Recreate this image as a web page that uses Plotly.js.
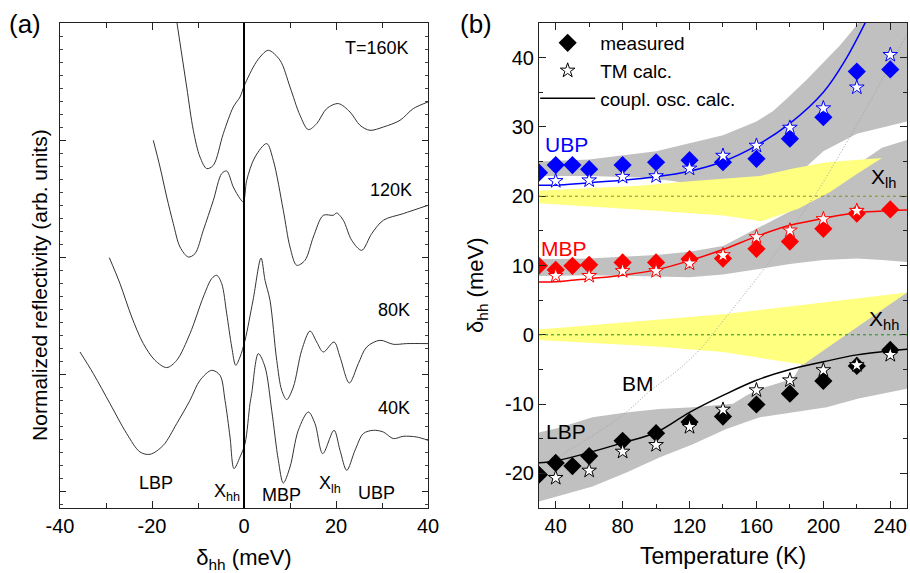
<!DOCTYPE html>
<html><head><meta charset="utf-8">
<script src="https://cdn.plot.ly/plotly-3.0.1.min.js"></script>
<style>html,body{margin:0;padding:0;background:#fff}#chart{width:910px;height:573px}</style>
</head><body><div id="chart"></div>
<script>
// ---------- Panel (a): reflectivity spectra (offset, arb. units) ----------
const delta160 = [-14.7,-12.46,-11.02,-9.57,-8.11,-6.67,-4.50,-2.33,-0.87,0,0.59,2.02,3.48,5.28,7.83,10.0,12.17,13.98,15.8,17.98,20.5,23.04,25.22,27.39,30.28,33.91,36.8,40.0];
const refl160  = [48.9,42.1,37.77,35.1,33.94,34.27,37.44,40.1,41.1,42.17,42.77,44.1,45.1,45.77,44.77,42.1,39.27,37.84,38.44,39.94,40.44,39.6,38.27,37.77,38.1,38.77,39.94,40.6];
const delta120 = [-19.72,-18.26,-16.8,-15.37,-13.91,-12.11,-10.65,-8.85,-6.67,-4.85,-3.76,-2.33,-0.87,-0.15,0.59,2.39,4.93,6.37,8.54,10.0,11.46,13.26,15.07,17.24,19.41,20.15,21.59,23.41,25.59,27.76,30.28,34.63,40.0];
const refl120  = [36.77,34.1,31.1,28.44,26.1,25.1,25.44,27.77,30.77,33.44,33.7,32.1,30.94,30.6,32.77,35.1,36.44,34.77,29.77,26.1,24.27,24.77,27.1,29.27,29.27,29.5,28.77,26.77,25.77,27.44,28.77,29.44,30.27];
const delta80  = [-29.28,-26.96,-24.41,-21.89,-19.35,-16.8,-14.63,-11.74,-8.85,-7.02,-5.93,-4.85,-3.76,-2.67,-1.8,-0.87,0.22,1.96,3.7,4.57,5.65,7.11,8.2,9.28,10.72,12.54,14.35,15.8,17.24,19.57,20.87,22.89,24.85,26.67,29.57,32.46,35.37,40.0];
const refl80   = [25.04,22.44,19.1,16.44,14.77,14.04,14.77,17.44,21.1,22.94,23.27,22.44,19.44,16.1,14.27,15.1,16.77,20.77,25.0,22.77,20.77,14.77,11.77,10.84,12.1,15.77,17.7,16.6,15.6,16.6,15.1,12.5,14.44,16.1,16.77,16.37,16.44,16.44];
const delta40  = [-35.65,-32.76,-29.13,-25.5,-22.61,-20.43,-17.54,-14.63,-11.74,-9.57,-7.02,-5.22,-4.13,-3.04,-2.17,-0.87,0.22,1.3,1.67,3.11,4.57,6.02,7.46,8.54,10.0,11.8,13.98,15.43,17.11,19.57,20.87,22.33,24.13,25.93,28.11,30.28,32.46,34.63,37.54,40.0];
const refl40   = [15.6,13.44,10.44,7.44,5.6,5.37,6.27,8.44,10.77,12.77,13.77,13.27,10.77,7.1,3.94,5.1,6.44,10.44,11.44,15.44,14.1,9.77,4.77,2.5,4.1,7.77,9.6,8.44,5.44,7.77,5.77,3.77,5.77,7.44,7.77,7.6,6.94,7.17,7.1,6.77];
const aTickVals = [-40,-20,0,20,40];
const aTickText = ['-40','-20','0','20','40'];

// ---------- Panel (b): polariton branches vs temperature ----------
const temps   = [30,40,50,60,80,100,120,140,160,180,200,220,240];
const ubpMeas = [23.4,24.5,24.5,23.9,24.5,24.9,25.2,24.9,25.4,28.3,31.4,38.0,38.3];
const mbpMeas = [9.96,9.37,9.96,10.1,10.45,10.45,10.93,11.0,12.4,13.45,15.3,17.5,18.1];
const lbpMeas = [-20.2,-18.5,-18.95,-17.5,-15.3,-14.2,-12.6,-11.8,-10.06,-8.5,-6.66,-4.5,-2.19];

const tmT   = [40,60,80,100,120,140,160,180,200,220,240];
const ubpTM = [22.2,22.3,22.8,22.9,24.0,25.85,27.3,29.9,32.7,35.7,40.4];
const mbpTM = [8.5,8.5,9.2,9.2,10.3,11.5,14.1,15.06,16.7,17.9,null];
const lbpTM = [-20.65,-19.6,-16.86,-15.9,-13.3,-10.8,-8.0,-6.56,-5.1,-4.37,-2.9];

const ubpCoT = [30,40,60,80,100,120,140,160,180,200,213,226];
const ubpCo  = [21.6,21.6,21.96,22.3,22.8,23.6,25.0,27.3,30.5,35.0,39.6,45.5];
const coT    = [30,40,60,80,100,120,140,160,180,200,220,240,250];
const mbpCo  = [7.62,7.65,8.1,8.6,9.37,10.7,12.3,14.2,15.8,16.8,17.6,17.9,18.0];
const lbpCo  = [-18.46,-18.2,-17.0,-15.6,-14.1,-11.2,-8.75,-6.56,-5.0,-3.9,-2.9,-2.3,-2.1];

const ubpBandLoT = [30,60,90,110,125,140,160,180,190,200,220,250];
const ubpBandLo  = [22.9,22.9,22.7,22.2,21.5,21.0,21.0,22.5,24.3,26.5,29.0,30.8];
const ubpBandHiT = [30,60,100,140,160,170,180,190,200,210,221,235,250];
const ubpBandHi  = [25.0,25.3,26.5,28.8,30.8,32.3,34.5,36.8,39.3,41.8,45.0,49,52];
const mbpBandT   = [30,60,100,120,140,160,180,200,220,235,250];
const mbpBandLo  = [8.5,8.6,8.4,8.3,8.7,9.5,10.2,10.8,11.0,10.8,10.5];
const mbpBandHi  = [10.9,11.0,11.5,12.0,12.8,15.3,17.8,21.0,24.5,27.0,28.1];
const lbpBandLoT = [30,62,82,102,122,142,162,182,202,221,250];
const lbpBandLo  = [-24.05,-21.9,-19.9,-17.7,-15.8,-13.6,-11.9,-11.2,-10.45,-9.2,-7.8];
const lbpBandHiT = [30,42,62,82,102,122,146,154,162,182,186,190,250];
const lbpBandHi  = [-14.1,-13.4,-11.9,-11.2,-10.7,-10.45,-9.95,-8.75,-7.8,-6.3,-4.6,-3.0,6.1];

const xlhUpT = [30,90,122,162,182,202,235];
const xlhUp  = [20.8,21.5,22.2,22.9,24.0,24.9,25.5];
const xlhLoT = [30,100,140,163,185,204,220,235];
const xlhLo  = [19.0,17.9,17.2,16.4,18.2,20.6,23.2,25.5];
const xhhUpT = [30,140,250];
const xhhUp  = [0.75,2.95,6.1];
const xhhLoT = [30,100,140,188,250];
const xhhLo  = [-0.75,-1.7,-2.5,-4.3,6.1];

const bmT     = [42,57,67,81,97,113,127,139,150,163,176,188,198,208,218,228,238,248,250];
const bmDelta = [-17.6,-15.3,-13.8,-11.4,-8.0,-5.1,-1.9,1.7,5.0,9.0,13.3,17.7,21.3,25.3,29.5,33.7,38.0,42.5,43.4];

const xlhLevel = 20, xhhLevel = 0;
const bTickVals = [-20,-10,0,10,20,30,40];
const bTickText = ['-20','-10','0','10','20','30','40'];
const tTickVals = [40,80,120,160,200,240];

// ---------- build ----------
const FONT = 'Liberation Sans, Arial, Helvetica, sans-serif';
const GRAY = '#c0c0c0', YEL = '#ffff80', BLUE = '#0000ff', RED = '#ff0000';

function poly(tA, vA, tB, vB) {
  return {x: tA.concat(tB.slice().reverse()), y: vA.concat(vB.slice().reverse())};
}
function fillTrace(p, color) {
  return {x: p.x, y: p.y, xaxis: 'x2', yaxis: 'y2', type: 'scatter', mode: 'lines',
    fill: 'toself', fillcolor: color, line: {width: 0, color: color}, hoverinfo: 'skip', showlegend: false};
}
function spec(x, y) {
  return {x: x, y: y, xaxis: 'x', yaxis: 'y', type: 'scatter', mode: 'lines',
    line: {color: '#333', width: 1, shape: 'spline', smoothing: 0.9}, showlegend: false, hoverinfo: 'skip'};
}

const traces = [
  spec(delta160, refl160), spec(delta120, refl120), spec(delta80, refl80), spec(delta40, refl40),
  fillTrace(poly(ubpBandLoT, ubpBandLo, ubpBandHiT, ubpBandHi), GRAY),
  fillTrace(poly(mbpBandT, mbpBandLo, mbpBandT, mbpBandHi), GRAY),
  fillTrace(poly(lbpBandLoT, lbpBandLo, lbpBandHiT, lbpBandHi), GRAY),
  fillTrace(poly(xlhUpT, xlhUp, xlhLoT, xlhLo), YEL),
  fillTrace(poly(xhhUpT, xhhUp, xhhLoT, xhhLo), YEL),
  {x: bmT, y: bmDelta, xaxis: 'x2', yaxis: 'y2', type: 'scatter', mode: 'lines', line: {color: '#a0a0a0', width: 1, dash: '1px,2px', shape: 'spline'}, showlegend: false, hoverinfo: 'skip'},
  {x: ubpCoT, y: ubpCo, xaxis: 'x2', yaxis: 'y2', type: 'scatter', mode: 'lines', line: {color: BLUE, width: 1.5, shape: 'spline'}, showlegend: false},
  {x: coT, y: mbpCo, xaxis: 'x2', yaxis: 'y2', type: 'scatter', mode: 'lines', line: {color: RED, width: 1.5, shape: 'spline'}, showlegend: false},
  {x: coT, y: lbpCo, xaxis: 'x2', yaxis: 'y2', type: 'scatter', mode: 'lines', name: 'coupl. osc. calc.', legendrank: 3, line: {color: '#000', width: 1.5, shape: 'spline'}},
  {x: temps, y: ubpMeas, xaxis: 'x2', yaxis: 'y2', type: 'scatter', mode: 'markers', marker: {symbol: 'diamond', size: 14, color: BLUE}, showlegend: false},
  {x: temps, y: mbpMeas, xaxis: 'x2', yaxis: 'y2', type: 'scatter', mode: 'markers', marker: {symbol: 'diamond', size: 14, color: RED}, showlegend: false},
  {x: temps, y: lbpMeas, xaxis: 'x2', yaxis: 'y2', type: 'scatter', mode: 'markers', name: 'measured', legendrank: 1, marker: {symbol: 'diamond', size: 14, color: '#000'}},
  {x: tmT, y: ubpTM, xaxis: 'x2', yaxis: 'y2', type: 'scatter', mode: 'markers', marker: {symbol: 'star', size: 11, color: '#fff', line: {color: BLUE, width: 1}}, showlegend: false},
  {x: tmT, y: mbpTM, xaxis: 'x2', yaxis: 'y2', type: 'scatter', mode: 'markers', marker: {symbol: 'star', size: 11, color: '#fff', line: {color: RED, width: 1}}, showlegend: false},
  {x: tmT, y: lbpTM, xaxis: 'x2', yaxis: 'y2', type: 'scatter', mode: 'markers', name: 'TM calc.', legendrank: 2, marker: {symbol: 'star', size: 11, color: '#fff', line: {color: '#000', width: 1}}}
];

const axisBase = {showline: true, linecolor: '#222', linewidth: 1, mirror: 'ticks', ticks: 'inside',
  ticklen: 7, tickcolor: '#222', showgrid: false, zeroline: false, tickfont: {size: 20, family: FONT}};

const layout = {
  width: 910, height: 573,
  margin: {l: 60, r: 3, t: 23, b: 65},
  paper_bgcolor: '#fff', plot_bgcolor: 'rgba(0,0,0,0)',
  font: {family: FONT, size: 20, color: '#000'},
  showlegend: true,
  legend: {x: 0.561, y: 0.998, xanchor: 'left', yanchor: 'top', bgcolor: 'rgba(0,0,0,0)',
    font: {size: 19, family: FONT}, itemwidth: 55, tracegroupgap: 0, traceorder: 'normal'},
  xaxis: Object.assign({}, axisBase, {domain: [0, 0.4345], range: [-40, 40], anchor: 'y',
    tickmode: 'array', tickvals: aTickVals, ticktext: aTickText,
    minor: {tickmode: 'linear', tick0: 0, dtick: 10, ticks: 'inside', ticklen: 5, tickcolor: '#222'},
    title: {text: 'δ<sub>hh</sub> (meV)', font: {size: 22, family: FONT}, standoff: 16}}),
  yaxis: Object.assign({}, axisBase, {domain: [0, 1], range: [0, 48.5], anchor: 'x', showticklabels: false,
    tick0: 1.67, dtick: 11.7, ticklen: 6,
    minor: {tick0: 1.67, dtick: 1.3, ticks: 'inside', ticklen: 3, tickcolor: '#444'}}),
  xaxis2: Object.assign({}, axisBase, {domain: [0.5655, 1], range: [30, 250], anchor: 'y2',
    tickmode: 'array', tickvals: tTickVals,
    minor: {tickmode: 'linear', tick0: 0, dtick: 20, ticks: 'inside', ticklen: 4, tickcolor: '#222'},
    title: {text: 'Temperature (K)', font: {size: 23, family: FONT}, standoff: 11}}),
  yaxis2: Object.assign({}, axisBase, {domain: [0, 1], range: [-25, 45], anchor: 'x2',
    tickmode: 'array', tickvals: bTickVals, ticktext: bTickText,
    minor: {tickmode: 'linear', tick0: 0, dtick: 5, ticks: 'inside', ticklen: 4, tickcolor: '#222'}}),
  shapes: [
    {type: 'line', xref: 'x', yref: 'y domain', x0: 0, x1: 0, y0: 0, y1: 1, line: {color: '#000', width: 2}},
    {type: 'line', xref: 'x2 domain', yref: 'y2', x0: 0, x1: 1, y0: xlhLevel, y1: xlhLevel, line: {color: '#8c8c2a', width: 1, dash: 'dot'}},
    {type: 'line', xref: 'x2 domain', yref: 'y2', x0: 0, x1: 1, y0: xhhLevel, y1: xhhLevel, line: {color: '#1f8a1f', width: 1, dash: 'dot'}}
  ],
  annotations: [
    {text: '(a)', xref: 'paper', yref: 'paper', x: -0.0413, y: 0.998, xanchor: 'center', yanchor: 'middle', showarrow: false, font: {size: 26}},
    {text: '(b)', xref: 'paper', yref: 'paper', x: 0.491, y: 0.998, xanchor: 'center', yanchor: 'middle', showarrow: false, font: {size: 26}},
    {text: 'Normalized reflectivity (arb. units)', xref: 'paper', yref: 'paper', x: -0.0236, y: 0.46, textangle: -90, xanchor: 'center', yanchor: 'middle', showarrow: false, font: {size: 21}},
    {text: 'δ<sub>hh</sub> (meV)', xref: 'paper', yref: 'paper', x: 0.4923, y: 0.46, textangle: -90, xanchor: 'center', yanchor: 'middle', showarrow: false, font: {size: 22}},
    {text: 'T=160K', xref: 'x', yref: 'y', x: 29.0, y: 46.0, showarrow: false, font: {size: 18}},
    {text: '120K', xref: 'x', yref: 'y', x: 31.9, y: 31.8, showarrow: false, font: {size: 18}},
    {text: '80K', xref: 'x', yref: 'y', x: 32.6, y: 19.8, showarrow: false, font: {size: 18}},
    {text: '40K', xref: 'x', yref: 'y', x: 32.6, y: 10.0, showarrow: false, font: {size: 18}},
    {text: 'LBP', xref: 'x', yref: 'y', x: -19.2, y: 2.5, showarrow: false, font: {size: 18}},
    {text: 'X<sub>hh</sub>', xref: 'x', yref: 'y', x: -3.7, y: 1.6, showarrow: false, font: {size: 18}},
    {text: 'MBP', xref: 'x', yref: 'y', x: 8.2, y: 1.27, showarrow: false, font: {size: 18}},
    {text: 'X<sub>lh</sub>', xref: 'x', yref: 'y', x: 18.7, y: 2.4, showarrow: false, font: {size: 18}},
    {text: 'UBP', xref: 'x', yref: 'y', x: 28.7, y: 1.47, showarrow: false, font: {size: 18}},
    {text: 'UBP', xref: 'x2', yref: 'y2', x: 46.5, y: 27.4, showarrow: false, font: {size: 21, color: BLUE}},
    {text: 'MBP', xref: 'x2', yref: 'y2', x: 45, y: 12.4, showarrow: false, font: {size: 21, color: RED}},
    {text: 'X<sub>lh</sub>', xref: 'x2', yref: 'y2', x: 236, y: 22.6, showarrow: false, font: {size: 21}},
    {text: 'X<sub>hh</sub>', xref: 'x2', yref: 'y2', x: 236, y: 2.2, showarrow: false, font: {size: 21}},
    {text: 'BM', xref: 'x2', yref: 'y2', x: 88.9, y: -7.1, showarrow: false, font: {size: 21}},
    {text: 'LBP', xref: 'x2', yref: 'y2', x: 46, y: -14.0, showarrow: false, font: {size: 21}}
  ]
};

Plotly.newPlot('chart', traces, layout, {displayModeBar: false, staticPlot: true});
</script>
</body></html>
